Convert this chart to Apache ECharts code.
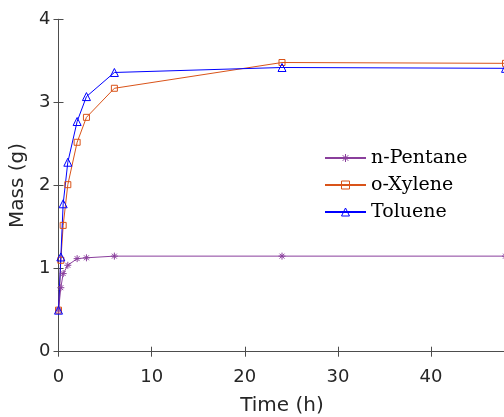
<!DOCTYPE html>
<html>
<head>
<meta charset="utf-8">
<script src="https://cdn.jsdelivr.net/npm/echarts@6/dist/echarts.min.js"></script>
<style>html,body{margin:0;padding:0;background:#fff;}#c{width:504px;height:417px;}</style>
</head>
<body>
<div id="c"></div>
<script>
var timeH = [0, 0.25, 0.5, 1, 2, 3, 6, 24, 48];
var pentane = [0.5, 0.77, 0.94, 1.04, 1.12, 1.13, 1.15, 1.15, 1.15];
var xylene = [0.5, 1.1, 1.52, 2.01, 2.52, 2.82, 3.17, 3.48, 3.47];
var toluene = [0.5, 1.14, 1.78, 2.28, 2.77, 3.07, 3.36, 3.42, 3.41];
var seriesNames = ['n-Pentane', 'o-Xylene', 'Toluene'];

function pairs(ys) { return timeH.map(function (t, i) { return [t, ys[i]]; }); }

var axisColor = '#4d4d4d';
var tickFont = { fontFamily: 'DejaVu Sans, sans-serif', fontSize: 18, color: '#262626' };
var titleFont = { fontFamily: 'DejaVu Sans, sans-serif', fontSize: 20, color: '#262626' };
var asterisk = 'path://M0,-1L0,1M-1,0L1,0M-0.7,-0.7L0.7,0.7M-0.7,0.7L0.7,-0.7';

var chart = echarts.init(document.getElementById('c'), null, { renderer: 'canvas' });
chart.setOption({
  animation: false,
  backgroundColor: '#fff',
  grid: { left: 58.5, right: -1.5, top: 19.3, bottom: 65.3, containLabel: false, outerBoundsMode: 'none' },
  legend: {
    data: seriesNames,
    orient: 'vertical',
    left: 319,
    top: 143,
    itemWidth: 41,
    itemHeight: 10,
    itemGap: 7,
    textStyle: { fontFamily: 'DejaVu Serif, serif', fontSize: 19, color: '#000', lineHeight: 20 },
    itemStyle: { borderWidth: 1 }
  },
  xAxis: [{
    type: 'value', min: 0, max: 48, interval: 10, position: 'bottom',
    name: 'Time (h)', nameLocation: 'middle', nameGap: 44,
    nameTextStyle: titleFont,
    axisLine: { show: true, lineStyle: { color: axisColor, width: 1 } },
    axisTick: { show: true, inside: true, length: 5, lineStyle: { color: axisColor } },
    axisLabel: Object.assign({ margin: 17, showMaxLabel: false }, tickFont),
    splitLine: { show: false }
  }, {
    type: 'value', min: 0, max: 48, interval: 10, position: 'top',
    axisLine: { show: true, lineStyle: { color: axisColor, width: 1 } },
    axisTick: { show: true, inside: true, length: 5, lineStyle: { color: axisColor } },
    axisLabel: { show: false },
    splitLine: { show: false }
  }],
  yAxis: [{
    type: 'value', min: 0, max: 4, interval: 1, position: 'left',
    name: 'Mass (g)', nameLocation: 'middle', nameGap: 24,
    nameTextStyle: titleFont,
    axisLine: { show: true, lineStyle: { color: axisColor, width: 1 } },
    axisTick: { show: true, inside: true, length: 5, lineStyle: { color: axisColor } },
    axisLabel: Object.assign({ margin: 8 }, tickFont),
    splitLine: { show: false }
  }, {
    type: 'value', min: 0, max: 4, interval: 1, position: 'right',
    axisLine: { show: true, lineStyle: { color: axisColor, width: 1 } },
    axisTick: { show: true, inside: true, length: 5, lineStyle: { color: axisColor } },
    axisLabel: { show: false },
    splitLine: { show: false }
  }],
  series: [{
    name: seriesNames[0], type: 'line', data: pairs(pentane),
    symbol: asterisk, symbolSize: 7,
    lineStyle: { color: '#8A3F9C', width: 1 },
    itemStyle: { color: '#8A3F9C', borderColor: '#8A3F9C', borderWidth: 1 }
  }, {
    name: seriesNames[1], type: 'line', data: pairs(xylene),
    symbol: 'rect', symbolSize: 6,
    lineStyle: { color: '#D95319', width: 1 },
    itemStyle: { color: 'rgba(255,255,255,0)', borderColor: '#D95319', borderWidth: 1 }
  }, {
    name: seriesNames[2], type: 'line', data: pairs(toluene),
    symbol: 'triangle', symbolSize: 8,
    lineStyle: { color: '#0000FF', width: 1 },
    itemStyle: { color: 'rgba(255,255,255,0)', borderColor: '#0000FF', borderWidth: 1 }
  }]
});
</script>
</body>
</html>
